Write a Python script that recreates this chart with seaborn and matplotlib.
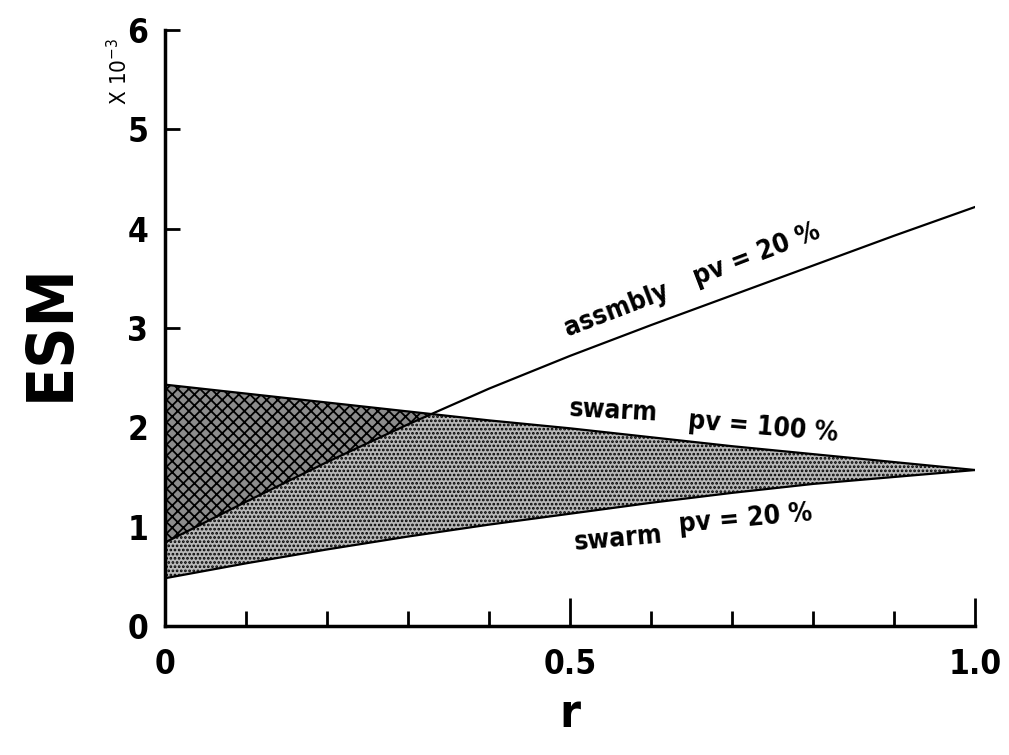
"""
ESM vs r: swarm / assembly curves with shaded bands.
"""

import matplotlib
matplotlib.use("Agg")
import matplotlib.pyplot as plt
import seaborn as sns
import pandas as pd

# values (ESM in units of 1e-3)
r = [0.0, 0.1, 0.2, 0.3, 0.4, 0.5, 0.6, 0.7, 0.8, 0.9, 1.0]
swarm_pv100 = [2.43, 2.34, 2.25, 2.16, 2.07, 1.99, 1.90, 1.81, 1.73, 1.65, 1.57]
swarm_pv20 = [0.48, 0.63, 0.77, 0.90, 1.02, 1.13, 1.24, 1.34, 1.43, 1.50, 1.57]
assembly_pv20 = [0.84, 1.25, 1.65, 2.03, 2.39, 2.72, 3.03, 3.33, 3.63, 3.93, 4.22]

x_ticks = [0, 0.5, 1.0]
x_ticklabels = ["0", "0.5", "1.0"]
y_ticks = [0, 1, 2, 3, 4, 5, 6]

df = pd.DataFrame({
    "r": r * 3,
    "ESM": swarm_pv100 + swarm_pv20 + assembly_pv20,
    "curve": ["swarm 100"] * len(r) + ["swarm 20"] * len(r) + ["assembly 20"] * len(r),
})

sns.set_style("ticks")
plt.rcParams["font.family"] = ["DejaVu Sans"]
plt.rcParams["font.stretch"] = "condensed"
plt.rcParams["hatch.linewidth"] = 1.3
for key in ["text.color", "axes.labelcolor", "xtick.color", "ytick.color", "axes.edgecolor"]:
    plt.rcParams[key] = "black"

fig = plt.figure(figsize=(10.09, 7.55), dpi=100)
ax = fig.add_axes([0.1635, 0.171, 0.803, 0.789])

# shaded bands
ax.fill_between(r, swarm_pv20, swarm_pv100, facecolor="#b8b8b8",
                edgecolor="black", hatch="....", linewidth=0, zorder=1)
ax.fill_between(r, assembly_pv20, swarm_pv100,
                where=[a <= b for a, b in zip(assembly_pv20, swarm_pv100)],
                interpolate=True, facecolor="#8c8c8c", edgecolor="black",
                hatch="xxx", linewidth=0, zorder=2)

sns.lineplot(data=df, x="r", y="ESM", units="curve", estimator=None,
             color="black", linewidth=1.6, legend=False, ax=ax, zorder=3)

ax.set_xlim(0, 1.0)
ax.set_ylim(0, 6)
ax.set_xticks(x_ticks)
ax.set_xticklabels(x_ticklabels)
ax.set_xticks([0.1, 0.2, 0.3, 0.4, 0.6, 0.7, 0.8, 0.9], minor=True)
ax.set_yticks(y_ticks)
ax.tick_params(axis="x", which="major", direction="in", length=20, width=2,
               labelsize=24, pad=16)
ax.tick_params(axis="x", which="minor", direction="in", length=11, width=2)
ax.tick_params(axis="y", direction="in", length=11, width=2, labelsize=24, pad=12)
for lab in ax.get_xticklabels() + ax.get_yticklabels():
    lab.set_fontweight("bold")

sns.despine(ax=ax)
for s in ["left", "bottom"]:
    ax.spines[s].set_linewidth(2.5)

ax.set_xlabel("r", fontsize=34, fontweight="bold", labelpad=8)
ax.set_ylabel("")
fig.text(0.05, 0.56, "ESM", rotation=90, fontsize=46, fontweight="bold",
         ha="center", va="center")
fig.text(0.118, 0.905, r"X 10$^{-3}$", rotation=90, fontsize=16,
         ha="center", va="center")

# curve labels
lab_kw = dict(fontsize=19, fontweight="bold", ha="center", va="center")
ax.text(0.558, 3.18, "assmbly", rotation=21, **lab_kw)
ax.text(0.73, 3.74, "pv = 20 %", rotation=21, **lab_kw)
ax.text(0.553, 2.16, "swarm", rotation=-3, **lab_kw)
ax.text(0.738, 2.0, "pv = 100 %", rotation=-5, **lab_kw)
ax.text(0.559, 0.87, "swarm", rotation=5, **lab_kw)
ax.text(0.716, 1.07, "pv = 20 %", rotation=5, **lab_kw)

fig.savefig("out.png", dpi=100)
